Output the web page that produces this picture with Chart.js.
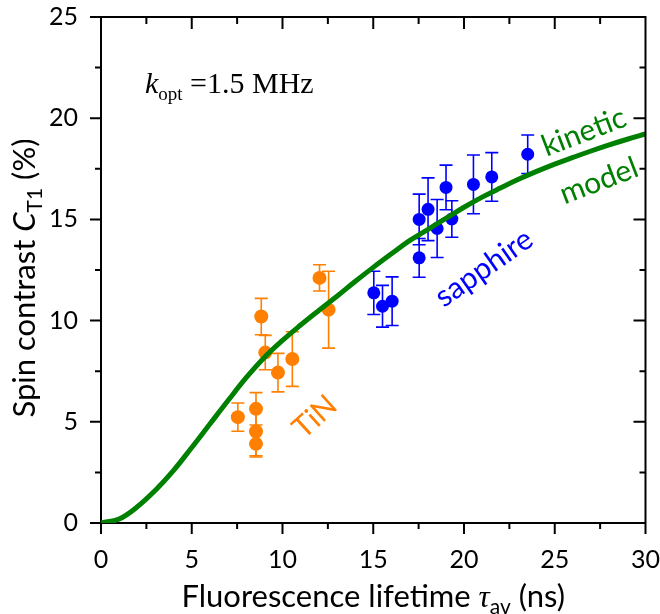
<!DOCTYPE html>
<html><head><meta charset="utf-8">
<script src="https://cdn.jsdelivr.net/npm/chart.js@4"></script>
<style>html,body{margin:0;padding:0;background:#fff}canvas{display:block}</style>
</head><body>
<canvas id="c" width="660" height="614"></canvas>
<script>
// ---- data ----
const tinX   = [7.54, 8.54, 8.54, 8.54, 8.83, 9.05, 9.75, 10.54, 12.04, 12.54];
const tinY   = [5.23, 5.64, 4.52, 3.91, 10.2, 8.42, 7.43, 8.1, 12.11, 10.54];
const tinErr = [0.7, 0.8, 1.2, 0.65, 0.9, 0.85, 0.95, 1.35, 0.65, 1.9];

const sapX   = [15.03, 15.51, 16.04, 17.53, 17.53, 18.02, 18.52, 19.01, 19.33, 20.52, 21.53, 23.51];
const sapY   = [11.37, 10.71, 10.96, 13.1, 15.0, 15.5, 14.55, 16.58, 15.02, 16.73, 17.1, 18.22];
const sapErr = [1.07, 1.03, 1.2, 0.96, 1.25, 1.55, 1.43, 1.1, 0.9, 1.45, 1.2, 0.95];

const modelX = [0,1,2,3,4,5,6,7,8,9,10,11,12,13,14,15,16,17,18,19,20,21,22,23,24,25,26,27,28,29,30];
const modelY = [0,0.2,0.8,1.62,2.6,3.73,4.89,6.05,7.18,8.18,9.02,9.78,10.5,11.2,11.93,12.63,13.3,13.95,14.5,15.05,15.6,16.1,16.55,16.98,17.37,17.73,18.06,18.38,18.68,18.96,19.22];

const xMajor = [0,5,10,15,20,25,30];
const xMinor = [2.5,7.5,12.5,17.5,22.5,27.5];
const yMajor = [0,5,10,15,20,25];
const yMinor = [2.5,7.5,12.5,17.5,22.5];

const ORANGE = '#FF8000', BLUE = '#0000FF', GREEN = '#008000';

const toPts = (xs, ys) => xs.map((x, i) => ({x, y: ys[i]}));

// ---- plugins ----
const errorBars = {
  id: 'errorBars',
  beforeDatasetDraw(chart, args) {
    const ds = chart.data.datasets[args.index];
    if (!ds.errors) return;
    const xs = chart.scales.x, ys = chart.scales.y, ctx = chart.ctx;
    ctx.save();
    ctx.strokeStyle = ds.backgroundColor;
    ctx.lineWidth = 1.6;
    ds.data.forEach((p, i) => {
      const e = ds.errors[i];
      const px = xs.getPixelForValue(p.x);
      const t = ys.getPixelForValue(p.y + e), b = ys.getPixelForValue(p.y - e);
      ctx.beginPath();
      ctx.moveTo(px, t); ctx.lineTo(px, b);
      ctx.moveTo(px - 6.5, t); ctx.lineTo(px + 6.5, t);
      ctx.moveTo(px - 6.5, b); ctx.lineTo(px + 6.5, b);
      ctx.stroke();
    });
    ctx.restore();
  }
};

function rich(ctx, pieces, x, y, align) {
  let w = 0;
  pieces.forEach(p => { ctx.font = p.f; w += ctx.measureText(p.t).width; });
  let cx = align === 'center' ? x - w / 2 : x;
  ctx.textBaseline = 'alphabetic';
  ctx.textAlign = 'left';
  pieces.forEach(p => {
    ctx.font = p.f;
    ctx.fillStyle = p.c || '#000';
    ctx.fillText(p.t, cx, y + (p.dy || 0));
    cx += ctx.measureText(p.t).width;
  });
}

const frame = {
  id: 'frame',
  afterDraw(chart) {
    const ctx = chart.ctx, a = chart.chartArea;
    const xs = chart.scales.x, ys = chart.scales.y;
    ctx.save();
    ctx.strokeStyle = '#000';
    ctx.lineWidth = 2;
    ctx.beginPath();
    ctx.moveTo(a.left - 1, a.top); ctx.lineTo(a.right + 1, a.top);
    ctx.moveTo(a.right, a.top); ctx.lineTo(a.right, a.bottom);
    // top & right inward ticks
    xMajor.forEach(v => { const p = xs.getPixelForValue(v); ctx.moveTo(p, a.top); ctx.lineTo(p, a.top + 12); });
    xMinor.forEach(v => { const p = xs.getPixelForValue(v); ctx.moveTo(p, a.top); ctx.lineTo(p, a.top + 7); });
    yMajor.forEach(v => { const p = ys.getPixelForValue(v); ctx.moveTo(a.right, p); ctx.lineTo(a.right - 12, p); });
    yMinor.forEach(v => { const p = ys.getPixelForValue(v); ctx.moveTo(a.right, p); ctx.lineTo(a.right - 6, p); });
    // bottom & left outward ticks
    xMajor.forEach(v => { const p = xs.getPixelForValue(v); ctx.moveTo(p, a.bottom); ctx.lineTo(p, a.bottom + 11); });
    xMinor.forEach(v => { const p = xs.getPixelForValue(v); ctx.moveTo(p, a.bottom); ctx.lineTo(p, a.bottom + 6); });
    yMajor.forEach(v => { const p = ys.getPixelForValue(v); ctx.moveTo(a.left, p); ctx.lineTo(a.left - 11, p); });
    yMinor.forEach(v => { const p = ys.getPixelForValue(v); ctx.moveTo(a.left, p); ctx.lineTo(a.left - 6, p); });
    ctx.stroke();

    // axis titles
    rich(ctx, [
      {t: 'Fluorescence lifetime ', f: '31px Lato'},
      {t: '\u03C4', f: 'italic 31px "Liberation Serif"'},
      {t: 'av', f: '21px Lato', dy: 7},
      {t: ' (ns)', f: '31px Lato'}
    ], (a.left + a.right) / 2, 607, 'center');

    ctx.save();
    ctx.translate(35, 278);
    ctx.rotate(-Math.PI / 2);
    rich(ctx, [
      {t: 'Spin contrast ', f: '31px Lato'},
      {t: 'C', f: 'italic 31px Lato'},
      {t: 'T1', f: '21px Lato', dy: 7},
      {t: ' (%)', f: '31px Lato'}
    ], 0, 0, 'center');
    ctx.restore();

    // annotation
    rich(ctx, [
      {t: 'k', f: 'italic 30px "Liberation Serif"'},
      {t: 'opt', f: '19px "Liberation Serif"', dy: 7},
      {t: ' =1.5 MHz', f: '30px "Liberation Serif"'}
    ], 145, 93, 'left');

    const rot = (txt, x, y, ang, col) => {
      ctx.save();
      ctx.translate(x, y);
      ctx.rotate(ang * Math.PI / 180);
      ctx.font = '30px Lato';
      ctx.fillStyle = col;
      ctx.textAlign = 'center';
      ctx.textBaseline = 'middle';
      ctx.fillText(txt, 0, 0);
      ctx.restore();
    };
    rot('kinetic', 584, 132, -21, GREEN);
    rot('model', 599, 181, -21, GREEN);
    rot('sapphire', 484, 268, -35, BLUE);
    rot('TiN', 315, 417, -42, ORANGE);
    ctx.restore();
  }
};

Chart.defaults.font.family = 'Lato';
Chart.defaults.color = '#000';

new Chart(document.getElementById('c'), {
  type: 'scatter',
  data: {
    datasets: [
      {label: 'kinetic model', data: toPts(modelX, modelY), showLine: true, borderColor: GREEN,
       borderWidth: 5, pointRadius: 0, tension: 0.4, fill: false},
      {label: 'sapphire', data: toPts(sapX, sapY), errors: sapErr, backgroundColor: BLUE,
       borderWidth: 0, pointRadius: 6.5},
      {label: 'TiN', data: toPts(tinX, tinY), errors: tinErr, backgroundColor: ORANGE,
       borderWidth: 0, pointRadius: 7}
    ]
  },
  options: {
    responsive: false,
    devicePixelRatio: 1,
    animation: false,
    layout: {padding: {top: 17, right: 14, left: 0, bottom: 0}},
    plugins: {legend: {display: false}, tooltip: {enabled: false}},
    scales: {
      x: {
        type: 'linear', min: 0, max: 30,
        afterBuildTicks: s => { s.ticks = xMajor.map(v => ({value: v})); },
        afterFit: s => { s.height = 91; },
        ticks: {font: {size: 25}, color: '#000', padding: 0, maxRotation: 0, autoSkip: false},
        grid: {drawOnChartArea: false, tickLength: 22, tickColor: 'rgba(0,0,0,0)'},
        border: {display: true, color: '#000', width: 2}
      },
      y: {
        type: 'linear', min: 0, max: 25,
        afterBuildTicks: s => { s.ticks = yMajor.map(v => ({value: v})); },
        afterFit: s => { s.width = 101; },
        ticks: {font: {size: 25}, color: '#000', padding: 0, autoSkip: false},
        grid: {drawOnChartArea: false, tickLength: 23, tickColor: 'rgba(0,0,0,0)'},
        border: {display: true, color: '#000', width: 2}
      }
    }
  },
  plugins: [errorBars, frame]
});
</script>
</body></html>
